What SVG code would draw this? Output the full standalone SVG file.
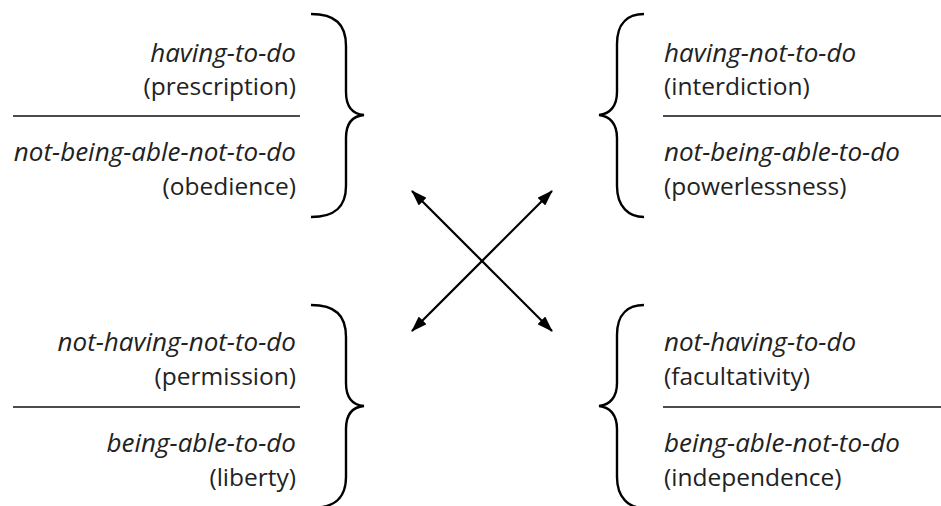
<svg xmlns="http://www.w3.org/2000/svg" width="941" height="506" viewBox="0 0 941 506">
<defs>
<style>
.t{font-family:"Open Sans","Noto Sans",sans-serif;font-size:24.5px;fill:#222}
.i{font-style:italic;font-size:26px}
.r{text-anchor:end}
.sep{stroke:#111;stroke-width:1.6}
.br{fill:none;stroke:#000;stroke-width:2.4}
.ar{stroke:#000;stroke-width:2.2}
</style>
<marker id="ah" viewBox="0 0 16 11" refX="15" refY="5.5" markerWidth="16" markerHeight="11" markerUnits="userSpaceOnUse" orient="auto-start-reverse">
<path d="M0,0 L16,5.5 L0,11 Z" fill="#000"/>
</marker>
</defs>
<rect width="941" height="506" fill="#fff"/>
<g id="node-tl">
<text class="t i r" x="296" y="62">having-to-do</text>
<text class="t r" x="296" y="95">(prescription)</text>
<line class="sep" x1="13" y1="116" x2="300" y2="116"/>
<text class="t i r" x="296" y="161">not-being-able-not-to-do</text>
<text class="t r" x="296" y="195">(obedience)</text>
<path class="br" d="M311,14 C335,14 346,24 346,46 L346,92 C346,106 352,114 364,115 C352,116 346,124 346,138 L346,186 C346,207 335,217 311,217"/>
</g>
<g id="node-tr">
<text class="t i" x="664" y="62">having-not-to-do</text>
<text class="t" x="664" y="95">(interdiction)</text>
<line class="sep" x1="663" y1="116" x2="941" y2="116"/>
<text class="t i" x="664" y="161">not-being-able-to-do</text>
<text class="t" x="664" y="195">(powerlessness)</text>
<path class="br" d="M644,14 C629,14 617,22 617,44 L617,92 C617,106 610,114 599,115 C610,116 617,124 617,138 L617,186 C617,207 629,217 644,217"/>
</g>
<g id="node-bl">
<text class="t i r" x="296" y="351">not-having-not-to-do</text>
<text class="t r" x="296" y="385">(permission)</text>
<line class="sep" x1="13" y1="407" x2="300" y2="407"/>
<text class="t i r" x="296" y="452">being-able-to-do</text>
<text class="t r" x="296" y="486">(liberty)</text>
<path class="br" d="M311,305 C335,305 346,315 346,337 L346,383 C346,397 352,405 364,406 C352,407 346,415 346,429 L346,477 C346,498 335,508 311,508"/>
</g>
<g id="node-br">
<text class="t i" x="664" y="351">not-having-to-do</text>
<text class="t" x="664" y="385">(facultativity)</text>
<line class="sep" x1="663" y1="407" x2="941" y2="407"/>
<text class="t i" x="664" y="452">being-able-not-to-do</text>
<text class="t" x="664" y="486">(independence)</text>
<path class="br" d="M644,305 C629,305 617,313 617,335 L617,383 C617,397 610,405 599,406 C610,407 617,415 617,429 L617,477 C617,498 629,508 644,508"/>
</g>
<g id="connectors">
<line class="ar" x1="412" y1="191" x2="552" y2="331" marker-start="url(#ah)" marker-end="url(#ah)"/>
<line class="ar" x1="552" y1="191" x2="412" y2="331" marker-start="url(#ah)" marker-end="url(#ah)"/>
</g>
</svg>
